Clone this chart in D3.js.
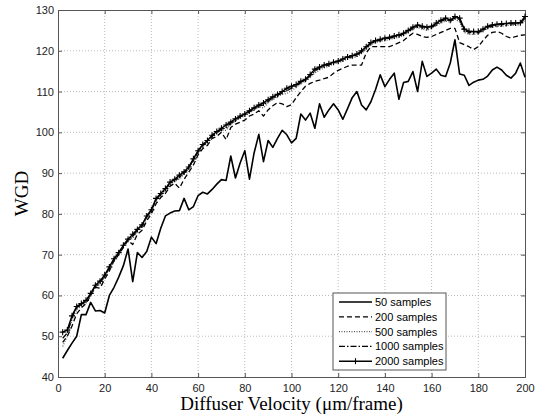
<!DOCTYPE html>
<html>
<head>
<meta charset="utf-8">
<script src="https://cdn.jsdelivr.net/npm/d3@7"></script>
<style>
  body { margin: 0; background: #fff; }
  .tick text { font-family: "Liberation Sans", Arial, sans-serif; font-size: 11px; fill: #222; }
</style>
</head>
<body>
<div id="line_graph"></div>
<script>
// x positions of the samples (Diffuser Velocity)
var velocity = d3.range(2, 201, 2);

var wgd50 = [44.6, 46.5, 48.3, 50.0, 55.3, 55.3, 58.3, 56.2, 56.3, 55.7,
    60.0, 62.0, 64.5, 67.3, 71.4, 63.4, 70.5, 69.3, 70.8, 74.3,
    72.7, 76.5, 79.5, 80.2, 80.7, 80.8, 83.8, 81.0, 81.8, 84.5,
    85.3, 84.9, 86.0, 87.3, 88.4, 88.2, 94.2, 88.8, 92.5, 95.5,
    88.5, 95.0, 99.5, 92.8, 98.0, 96.3, 98.5, 100.5, 99.4, 97.4,
    98.5, 104.5, 103.0, 104.7, 101.0, 107.0, 103.7, 105.5, 107.0, 105.5,
    103.2, 105.8, 108.5, 110.0, 106.7, 105.5, 107.5, 110.5, 114.1, 111.2,
    113.0, 114.5, 108.1, 112.2, 112.5, 114.9, 110.0, 117.4, 113.7, 114.5,
    115.5, 114.0, 113.7, 117.0, 122.7, 114.3, 114.0, 111.5, 112.3, 112.8,
    113.0, 113.8, 115.3, 116.0, 115.3, 114.0, 113.3, 114.5, 117.0, 113.5];

var wgd200 = [48.5, 50.0, 52.5, 55.5, 57.0, 58.0, 60.0, 62.0, 61.8, 64.0,
    66.0, 68.5, 70.0, 71.8, 73.5, 72.5, 75.0, 76.0, 78.3, 80.0,
    82.5, 84.0, 85.0, 86.8, 87.5, 86.3, 88.5, 90.2, 92.0, 94.5,
    96.0, 96.8, 98.5, 99.0, 100.0, 98.2, 101.2, 102.0, 102.5, 103.0,
    104.0, 104.5, 105.3, 104.0, 105.5, 106.5, 107.3, 107.0, 106.3, 106.8,
    108.5, 110.0, 111.3, 112.0, 112.5, 112.8, 113.2, 113.5, 114.5, 115.2,
    115.7, 116.2, 116.5, 116.5, 116.5, 119.5, 121.0, 121.0, 121.0, 121.0,
    121.0, 121.5, 122.0, 122.5, 123.5, 124.3, 124.0, 123.5, 123.3, 123.5,
    124.0, 124.5, 125.0, 125.5, 125.5, 122.0, 121.5, 121.0, 120.3, 121.0,
    122.5, 123.8, 124.5, 124.7, 124.3, 123.5, 123.1, 123.5, 123.8, 123.9];

var wgd500 = [47.5, 50.0, 54.0, 56.5, 57.5, 58.5, 60.0, 62.0, 62.8, 64.5,
    66.5, 68.5, 70.3, 72.0, 73.5, 74.0, 75.8, 76.8, 79.0, 80.5,
    83.3, 84.5, 85.8, 87.3, 88.0, 88.5, 89.8, 91.0, 93.0, 95.0,
    96.5, 97.5, 98.8, 99.8, 100.5, 100.5, 102.0, 102.8, 103.5, 104.0,
    104.8, 105.5, 106.2, 106.0, 107.3, 108.0, 108.8, 109.3, 109.5, 110.3,
    111.0, 112.0, 112.5, 113.5, 114.5, 115.3, 115.8, 116.2, 116.8, 117.0,
    117.5, 118.0, 118.2, 118.5, 119.3, 120.5, 121.5, 122.0, 122.3, 122.5,
    122.8, 123.0, 123.3, 123.8, 124.5, 125.3, 125.7, 125.3, 125.0, 125.5,
    126.2, 126.8, 127.3, 127.0, 127.8, 127.0, 124.5, 124.0, 124.0, 124.2,
    124.8, 125.5, 125.8, 126.0, 126.0, 126.2, 126.3, 126.2, 126.4, 127.5];

var wgd1000 = [49.5, 50.8, 54.5, 57.0, 57.8, 58.7, 60.3, 62.3, 63.2, 64.8,
    66.8, 68.8, 70.4, 72.2, 73.7, 74.5, 76.0, 77.0, 79.3, 80.8,
    83.5, 84.8, 86.0, 87.5, 88.3, 89.0, 90.0, 91.3, 93.3, 95.3,
    96.8, 97.8, 99.0, 100.0, 100.8, 101.0, 102.3, 103.0, 103.8, 104.3,
    105.0, 105.8, 106.5, 106.7, 107.7, 108.4, 109.0, 109.7, 110.2, 110.8,
    111.4, 112.3, 112.8, 113.9, 115.0, 115.7, 116.2, 116.5, 117.0, 117.3,
    117.8, 118.3, 118.5, 118.9, 119.7, 120.8, 121.8, 122.3, 122.6, 122.8,
    123.1, 123.3, 123.6, 124.1, 124.8, 125.6, 126.0, 125.7, 125.4, 125.8,
    126.5, 127.2, 127.7, 127.3, 128.1, 127.6, 125.0, 124.5, 124.4, 124.5,
    125.0, 125.8, 126.0, 126.3, 126.4, 126.5, 126.6, 126.5, 126.7, 128.0];

var wgd2000 = [51.0, 51.5, 55.0, 57.3, 58.0, 58.8, 60.5, 62.5, 63.5, 65.0,
    67.0, 69.0, 70.5, 72.3, 73.8, 75.0, 76.2, 77.3, 79.5, 81.0,
    83.8, 85.0, 86.2, 87.8, 88.5, 89.5, 90.3, 91.5, 93.5, 95.5,
    97.0, 98.0, 99.3, 100.2, 101.0, 101.8, 102.5, 103.3, 104.0, 104.5,
    105.3, 106.0, 106.7, 107.2, 108.0, 108.7, 109.3, 110.0, 110.8, 111.3,
    111.7, 112.5, 113.0, 114.2, 115.5, 116.0, 116.5, 116.8, 117.2, 117.5,
    118.0, 118.5, 118.8, 119.2, 120.0, 121.0, 122.0, 122.5, 122.8, 123.1,
    123.3, 123.6, 123.9, 124.3, 125.0, 125.8, 126.3, 126.0, 125.8, 126.0,
    126.8, 127.5, 128.0, 127.5, 128.4, 128.0, 125.3, 124.8, 124.7, 124.7,
    125.3, 126.0, 126.3, 126.5, 126.6, 126.7, 126.8, 126.8, 126.9, 128.4];

var seriesNames = ["50 samples", "200 samples", "500 samples", "1000 samples", "2000 samples"];
var seriesValues = [wgd50, wgd200, wgd500, wgd1000, wgd2000];
var xTicks = d3.range(0, 201, 20);
var yTicks = d3.range(40, 131, 10);

// line look per series
var styles = [
    { dash: null, width: 1.6, color: "#000" },
    { dash: "5,3", width: 1.3, color: "#000" },
    { dash: "1,1.5", width: 1.2, color: "#555" },
    { dash: "6,2,1.5,2", width: 1.2, color: "#000" },
    { dash: null, width: 1.5, color: "#000" }
];

function DrawLine() {
    d3.select("#line_graph svg").remove();
    var margin = { top: 10, right: 11, bottom: 39, left: 58 },
        width = 536 - margin.left - margin.right,
        height = 416 - margin.top - margin.bottom;

    var svg = d3.select("#line_graph")
        .append("svg")
        .attr("width", 536)
        .attr("height", 416)
        .style("font-family", "Liberation Sans, Arial, sans-serif")
        .append("g")
        .attr("transform", "translate(" + margin.left + "," + margin.top + ")");

    var x = d3.scaleLinear().domain([0, 200]).range([0, width]);
    var y = d3.scaleLinear().domain([40, 130]).range([height, 0]);

    // grid
    svg.append("g")
        .selectAll("line.gx")
        .data(xTicks.slice(1, -1))
        .enter().append("line")
        .attr("x1", function (d) { return x(d); })
        .attr("x2", function (d) { return x(d); })
        .attr("y1", 0).attr("y2", height)
        .attr("stroke", "#aaa").attr("stroke-width", 0.8)
        .attr("stroke-dasharray", "1,2");
    svg.append("g")
        .selectAll("line.gy")
        .data(yTicks.slice(1, -1))
        .enter().append("line")
        .attr("y1", function (d) { return y(d); })
        .attr("y2", function (d) { return y(d); })
        .attr("x1", 0).attr("x2", width)
        .attr("stroke", "#aaa").attr("stroke-width", 0.8)
        .attr("stroke-dasharray", "1,2");

    // axes, ticks pointing inward
    svg.append("g")
        .attr("transform", "translate(0," + height + ")")
        .call(d3.axisBottom(x).tickValues(xTicks).tickSize(-4).tickPadding(7));
    svg.append("g")
        .call(d3.axisLeft(y).tickValues(yTicks).tickSize(-4).tickPadding(4));
    svg.append("g")
        .call(d3.axisTop(x).tickValues(xTicks).tickSize(-4).tickFormat(""));
    svg.append("g")
        .attr("transform", "translate(" + width + ",0)")
        .call(d3.axisRight(y).tickValues(yTicks).tickSize(-4).tickFormat(""));
    svg.selectAll(".domain").attr("stroke", "#555");
    svg.selectAll(".tick line").attr("stroke", "#555");

    // the lines
    var line = d3.line()
        .x(function (d, i) { return x(velocity[i]); })
        .y(function (d) { return y(d); });

    seriesValues.forEach(function (vals, k) {
        svg.append("path")
            .datum(vals)
            .attr("fill", "none")
            .attr("stroke", styles[k].color)
            .attr("stroke-width", styles[k].width)
            .attr("stroke-dasharray", styles[k].dash)
            .attr("stroke-linejoin", "round")
            .attr("d", line);
    });

    // + markers on the 2000 samples line
    svg.append("g")
        .selectAll("path")
        .data(wgd2000)
        .enter().append("path")
        .attr("transform", function (d, i) { return "translate(" + x(velocity[i]) + "," + y(d) + ")"; })
        .attr("stroke", "#000").attr("stroke-width", 1.1)
        .attr("d", "M-3,0H3M0,-3V3");

    // legend
    var lg = svg.append("g").attr("transform", "translate(" + (333 - margin.left) + "," + (293 - margin.top) + ")");
    lg.append("rect")
        .attr("width", 113).attr("height", 77)
        .attr("fill", "#fff").attr("stroke", "#555");
    seriesNames.forEach(function (name, k) {
        var yy = 9 + k * 14.8;
        lg.append("line")
            .attr("x1", 6).attr("x2", 39)
            .attr("y1", yy).attr("y2", yy)
            .attr("stroke", styles[k].color)
            .attr("stroke-width", styles[k].width)
            .attr("stroke-dasharray", styles[k].dash);
        if (k == 4) {
            lg.append("path")
                .attr("d", "M22.5," + (yy - 3) + "V" + (yy + 3))
                .attr("stroke", "#000").attr("stroke-width", 1.1);
        }
        lg.append("text")
            .attr("x", 42).attr("y", yy + 4)
            .style("font-size", "11px")
            .text(name);
    });

    // text label for the x axis
    svg.append("text")
        .attr("x", width / 2)
        .attr("y", height + 33)
        .style("text-anchor", "middle")
        .style("font-family", "Liberation Serif, Times New Roman, serif")
        .style("font-size", "19px")
        .text("Diffuser Velocity (\u03bcm/frame)");
    // text label for the y axis
    svg.append("text")
        .attr("transform", "rotate(-90)")
        .attr("y", -margin.left + 28)
        .attr("x", -(height / 2))
        .style("text-anchor", "middle")
        .style("font-family", "Liberation Serif, Times New Roman, serif")
        .style("font-size", "19px")
        .text("WGD");
}
DrawLine();
</script>
</body>
</html>
